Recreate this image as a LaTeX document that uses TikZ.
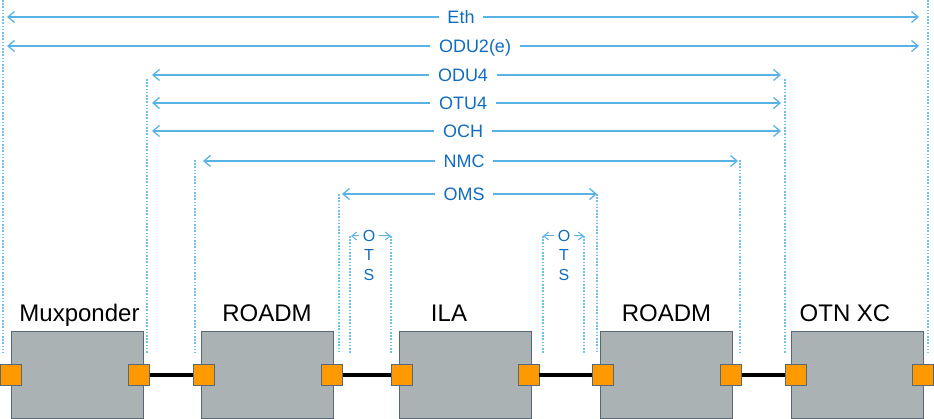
\documentclass[tikz,border=0pt]{standalone}
\usepackage{fontspec}
\setmainfont{Liberation Sans}
\usepackage{xcolor}
\usepackage{tikz}
\usetikzlibrary{arrows.meta}

\definecolor{dimblue}{RGB}{88,178,228}
\definecolor{dotblue}{RGB}{110,195,235}
\definecolor{txtblue}{RGB}{16,108,192}
\definecolor{boxgray}{RGB}{171,178,179}
\definecolor{boxedge}{RGB}{88,104,120}
\definecolor{portorange}{RGB}{255,153,0}

\begin{document}
\begin{tikzpicture}[x=1pt, y=-1pt,
    dim/.style={draw=dimblue, line width=1.3pt, -{Straight Barb[length=6.5pt,width=11pt]}},
    otsdim/.style={draw=dimblue, line width=1pt, -{Straight Barb[length=5pt,width=8pt]}},
    guide/.style={draw=dotblue, line width=1.1pt, dash pattern=on 1.6pt off 1.6pt},
    layer/.style={text=txtblue, font=\fontsize{18}{18}\selectfont, inner xsep=8.5pt, inner ysep=0pt,
                  text height=12.9pt, text depth=0pt},
    otslbl/.style={text=txtblue, font=\fontsize{16}{16}\selectfont, inner xsep=4pt, inner ysep=0pt,
                   text height=11.5pt, text depth=0pt},
    device/.style={draw=boxedge, fill=boxgray, line width=1pt, minimum width=132pt, minimum height=86pt,
                   inner sep=0pt},
    devlabel/.style={anchor=base, font=\fontsize{24}{24}\selectfont},
    port/.style={draw=boxedge, fill=portorange, line width=0.8pt, minimum size=21pt, inner sep=0pt},
    link/.style={draw=black, line width=4pt}]
    \useasboundingbox (0,0) rectangle (934,419);

    % Guides
    \foreach \x/\t in {3/0, 147/79, 195/160, 339/194, 350/236, 391/236,
                       543/236, 584/236, 597/194, 740/160, 785/79, 928/0}
        \draw [guide] (\x,\t) -- (\x,353);

    % Layers
    \node [layer] (eth)  at (461,17)  {Eth};
    \node [layer] (odu)  at (475,46)  {ODU2(e)};
    \node [layer] (oduf) at (463,75)  {ODU4};
    \node [layer] (otu)  at (463,103) {OTU4};
    \node [layer] (och)  at (463,131) {OCH};
    \node [layer] (nmc)  at (464,161) {NMC};
    \node [layer] (oms)  at (464,194) {OMS};
    \coordinate (L-eth)  at (7,17);    \coordinate (R-eth)  at (919,17);
    \coordinate (L-odu)  at (7,46);    \coordinate (R-odu)  at (919,46);
    \coordinate (L-oduf) at (152,75);  \coordinate (R-oduf) at (781,75);
    \coordinate (L-otu)  at (152,103); \coordinate (R-otu)  at (781,103);
    \coordinate (L-och)  at (152,131); \coordinate (R-och)  at (781,131);
    \coordinate (L-nmc)  at (203,161); \coordinate (R-nmc)  at (738,161);
    \coordinate (L-oms)  at (342,194); \coordinate (R-oms)  at (597,194);
    \foreach \n in {eth, odu, oduf, otu, och, nmc, oms} {
        \draw [dim] (\n) -- (L-\n);
        \draw [dim] (\n) -- (R-\n);
    }

    % OTS
    \foreach \n/\x/\l/\r in {otsa/369/351/391, otsb/564/543/584} {
        \node [otslbl] (\n)   at (\x,236) {O};
        \node [otslbl] (\n-t) at (\x,255) {T};
        \node [otslbl] (\n-s) at (\x,275) {S};
        \coordinate (L-\n) at (\l,236);
        \coordinate (R-\n) at (\r,236);
        \draw [otsdim] (\n) -- (L-\n);
        \draw [otsdim] (\n) -- (R-\n);
    }

    % Devices
    \node [device] (mux)   at (77,375)  {};
    \node [device] (roadm) at (267.5,375) {};
    \node [device] (ila)   at (465,375) {};
    \node [device] (roadmb) at (666.5,375) {};
    \node [device] (otn)   at (857,375) {};
    \node [devlabel] (mux-l)    at (79.5,322) {Muxponder};
    \node [devlabel] (roadm-l)  at (267,322)  {ROADM};
    \node [devlabel] (ila-l)    at (449,322)  {ILA};
    \node [devlabel] (roadmb-l) at (666.5,322) {ROADM};
    \node [devlabel] (otn-l)    at (845,322)  {OTN XC};

    % Ports
    \foreach \n/\x in {pa/10.5, pb/139, pc/203.5, pd/332, pe/401.5, pf/528.5,
                       pg/603, ph/731, pi/795.5, pj/923}
        \node [port] (\n) at (\x,374.5) {};

    % Links
    \draw [link] (pb) -- (pc);
    \draw [link] (pd) -- (pe);
    \draw [link] (pf) -- (pg);
    \draw [link] (ph) -- (pi);
\end{tikzpicture}
\end{document}
